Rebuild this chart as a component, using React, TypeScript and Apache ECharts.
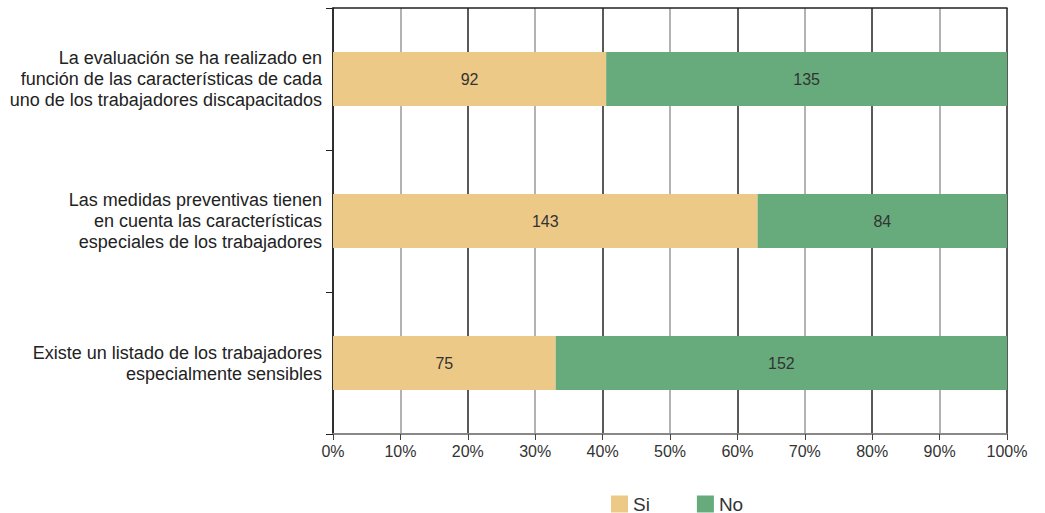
import React, { useEffect, useRef } from "react";
import * as echarts from "echarts";

const categories = [
  "La evaluación se ha realizado en\nfunción de las características de cada\nuno de los trabajadores discapacitados",
  "Las medidas preventivas tienen\nen cuenta las características\nespeciales de los trabajadores",
  "Existe un listado de los trabajadores\nespecialmente sensibles",
];
const siValues = [92, 143, 75];
const noValues = [135, 84, 152];
const seriesNames = ["Si", "No"];
const colors = ["#ECC987", "#67AB7C"];

const pct = (v: number, i: number) => (v / (siValues[i] + noValues[i])) * 100;

export default function App() {
  const ref = useRef<HTMLDivElement>(null);
  useEffect(() => {
    document.body.style.margin = "0";
    const chart = echarts.init(ref.current!, null, { renderer: "svg" });
    const font = "Liberation Sans, Arial, sans-serif";
    const mk = (name: string, vals: number[], color: string) => ({
      name,
      type: "bar",
      stack: "total",
      barWidth: 54,
      itemStyle: { color },
      label: {
        show: true,
        position: "inside",
        color: "#333",
        fontSize: 16,
        fontFamily: font,
        formatter: (p: any) => String(vals[p.dataIndex]),
      },
      data: vals.map((v, i) => pct(v, i)),
    });
    chart.setOption({
      animation: false,
      textStyle: { fontFamily: font },
      grid: { left: 333, right: 38, top: 8, bottom: 79 },
      legend: {
        data: seriesNames,
        left: 606,
        top: 489,
        itemWidth: 17,
        itemHeight: 17,
        itemGap: 47,
        icon: "rect",
        textStyle: { fontSize: 19, lineHeight: 20, color: "#333", fontFamily: font },
      },
      xAxis: [
        {
          type: "value",
          min: 0,
          max: 100,
          interval: 10,
          axisLine: { show: true, lineStyle: { color: "#888", width: 2 } },
          axisTick: { show: true, length: 6, lineStyle: { color: "#444" } },
          axisLabel: {
            formatter: "{value}%",
            color: "#333",
            fontSize: 16,
            margin: 9,
            fontFamily: font,
          },
          splitLine: { show: true, lineStyle: { color: ["#222", "#999"], width: 1.5 } },
        },
        {
          type: "value",
          position: "top",
          min: 0,
          max: 100,
          axisLine: { show: true, lineStyle: { color: "#222", width: 1.5 } },
          axisTick: { show: false },
          axisLabel: { show: false },
          splitLine: { show: false },
        },
      ],
      yAxis: {
        type: "category",
        inverse: true,
        data: categories,
        axisLine: { show: true, lineStyle: { color: "#222", width: 1.5 } },
        axisTick: { show: true, length: 7, lineStyle: { color: "#222" } },
        axisLabel: {
          color: "#222",
          fontSize: 18,
          lineHeight: 21,
          margin: 11,
          align: "right",
          fontFamily: font,
        },
      },
      series: [
        mk(seriesNames[0], siValues, colors[0]),
        mk(seriesNames[1], noValues, colors[1]),
      ],
    });
    return () => chart.dispose();
  }, []);
  return <div ref={ref} style={{ width: 1045, height: 513 }} />;
}
